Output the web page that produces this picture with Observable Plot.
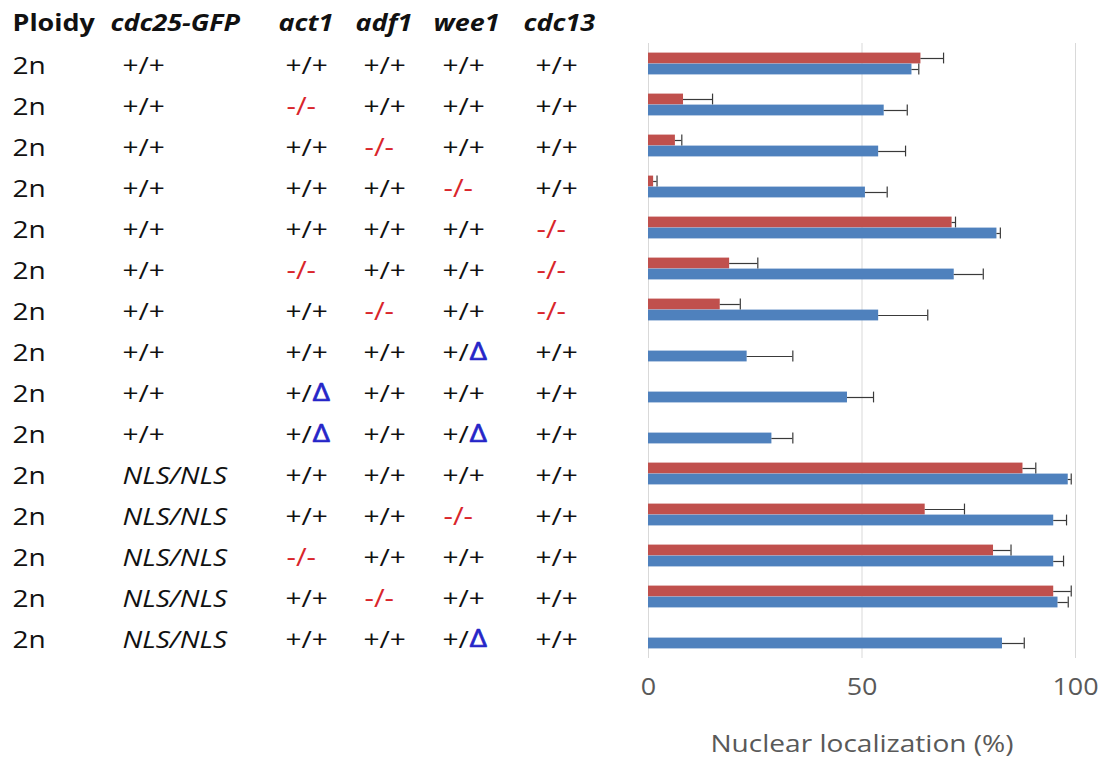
<!DOCTYPE html>
<html>
<head>
<meta charset="utf-8">
<script src="https://cdn.jsdelivr.net/npm/d3@7"></script>
<script src="https://cdn.jsdelivr.net/npm/@observablehq/plot@0.6"></script>
<style>
  html, body { margin: 0; padding: 0; background: #fff; }
  #chart { width: 1104px; height: 760px; }
</style>
</head>
<body>
<div id="chart"></div>
<script>
// ---------- data ----------
const headers = ["Ploidy", "cdc25-GFP", "act1", "adf1", "wee1", "cdc13"];
const ploidy = ["2n","2n","2n","2n","2n","2n","2n","2n","2n","2n","2n","2n","2n","2n","2n"];
const cdc25 = ["+/+","+/+","+/+","+/+","+/+","+/+","+/+","+/+","+/+","+/+","NLS/NLS","NLS/NLS","NLS/NLS","NLS/NLS","NLS/NLS"];
const act1  = ["+/+","-/-","+/+","+/+","+/+","-/-","+/+","+/+","+/Δ","+/Δ","+/+","+/+","-/-","+/+","+/+"];
const adf1  = ["+/+","+/+","-/-","+/+","+/+","+/+","-/-","+/+","+/+","+/+","+/+","+/+","+/+","-/-","+/+"];
const wee1  = ["+/+","+/+","+/+","-/-","+/+","+/+","+/+","+/Δ","+/+","+/Δ","+/+","-/-","+/+","+/+","+/Δ"];
const cdc13 = ["+/+","+/+","+/+","+/+","-/-","-/-","-/-","+/+","+/+","+/+","+/+","+/+","+/+","+/+","+/+"];

const redValues = [63.8, 8.2, 6.3, 1.2, 71.1, 19.0, 16.8, null, null, null, 87.7, 64.8, 80.8, 94.9, null];
const redErrors = [5.3, 6.8, 1.5, 0.8, 0.8, 6.6, 4.7, null, null, null, 3.0, 9.2, 4.1, 4.1, null];
const blueValues = [61.7, 55.2, 53.9, 50.8, 81.6, 71.6, 53.9, 23.1, 46.6, 28.9, 98.3, 94.9, 94.9, 95.9, 82.9];
const blueErrors = [1.6, 5.4, 6.3, 5.1, 0.8, 6.8, 11.5, 10.7, 6.1, 4.9, 0.7, 3.0, 2.3, 2.4, 5.1];

const xTicks = [0, 50, 100];
const xLabel = "Nuclear localization (%)";

// ---------- derived tables ----------
const rowIds = ploidy.map((_, i) => "r" + i);
const HEAD = "hdr";
const columnsData = [ploidy, cdc25, act1, adf1, wee1, cdc13];

const red = rowIds.map((r, i) => ({row: r, v: redValues[i], e: redErrors[i]})).filter(d => d.v != null);
const blue = rowIds.map((r, i) => ({row: r, v: blueValues[i], e: blueErrors[i]}));
const grid = xTicks.flatMap(x => rowIds.map(r => ({x, row: r})));

// ---------- layout / style ----------
const ML = 648;
const SX = 1.17;
const headX = [12, 110, 278, 355, 433, 523];
const cellX = [12, 122, 285, 363, 442, 535];
const RED = "#C0504D", BLUE = "#4F81BD";
const TXT = "#111111", MINUS = "#d9262b", DELTA = "#2525c8", AXIS = "#595959";
const ERR = "#3a3a3a";

const cells = columnsData.flatMap((col, j) => col.map((t, i) => ({row: rowIds[i], col: j, t})));

function colorOf(t) { return t === "-/-" ? MINUS : TXT; }

const tableMarks = [];
// headers
headers.forEach((h, j) => {
  tableMarks.push(Plot.text([h], {
    y: () => HEAD, text: d => d, frameAnchor: "left", textAnchor: "start",
    dx: headX[j] - ML, dy: 1, fontSize: 23, fontWeight: "bold",
    fontStyle: j === 0 ? "normal" : "italic", fill: TXT
  }));
});
// cells
for (let j = 0; j < columnsData.length; j++) {
  const cs = cells.filter(c => c.col === j);
  const groups = [
    {f: c => c.t === "NLS/NLS", italic: true},
    {f: c => c.t !== "NLS/NLS" && c.t !== "-/-", italic: false},
    {f: c => c.t === "-/-", italic: false, minus: true}
  ];
  groups.forEach(g => {
    const data = cs.filter(g.f);
    if (!data.length) return;
    tableMarks.push(Plot.text(data, {
      y: "row", text: d => d.t.replace("Δ", ""), frameAnchor: "left", textAnchor: "start",
      dx: cellX[j] - ML + (g.minus ? 1 : 0), dy: 2, fontSize: g.minus ? 25 : 24,
      fontStyle: g.italic ? "italic" : "normal",
      fill: d => colorOf(d.t)
    }));
  });
  const deltas = cs.filter(c => c.t.includes("Δ"));
  if (deltas.length) {
    tableMarks.push(Plot.text(deltas, {
      y: "row", text: () => "Δ", frameAnchor: "left", textAnchor: "start",
      dx: cellX[j] - ML + 27, dy: 1, fontSize: 26, fill: DELTA,
      stroke: DELTA, strokeWidth: 0.6
    }));
  }
}

const BAR_H = 11;
const halfBand = 659 / 16 / 2;

const chart = Plot.plot({
  width: 1104,
  height: 760,
  marginLeft: ML,
  marginRight: 29,
  marginTop: 0,
  marginBottom: 101,
  x: {domain: [0, 100], axis: null},
  y: {type: "band", domain: [HEAD, ...rowIds], padding: 0, axis: null},
  style: {fontFamily: "'Open Sans', sans-serif", background: "#fff", overflow: "visible"},
  marks: [
    Plot.tickX(grid, {x: "x", y: "row", stroke: "#d9d9d9", strokeWidth: 1}),
    Plot.barX(red, {x: "v", y: "row", fill: RED, insetTop: halfBand - BAR_H, insetBottom: halfBand}),
    Plot.barX(blue, {x: "v", y: "row", fill: BLUE, insetTop: halfBand, insetBottom: halfBand - BAR_H}),
    Plot.ruleY(red, {x1: "v", x2: d => d.v + d.e, y: "row", dy: -BAR_H / 2, stroke: ERR, strokeWidth: 1.2}),
    Plot.tickX(red, {x: d => d.v + d.e, y: "row", insetTop: halfBand - BAR_H, insetBottom: halfBand, stroke: ERR, strokeWidth: 1.2}),
    Plot.ruleY(blue, {x1: "v", x2: d => d.v + d.e, y: "row", dy: BAR_H / 2, stroke: ERR, strokeWidth: 1.2}),
    Plot.tickX(blue, {x: d => d.v + d.e, y: "row", insetTop: halfBand, insetBottom: halfBand - BAR_H, stroke: ERR, strokeWidth: 1.2}),
    Plot.text(xTicks, {x: d => d, text: d => String(d), frameAnchor: "bottom", dy: 35, fontSize: 23, fill: AXIS}),
    Plot.text([xLabel], {text: d => d, frameAnchor: "bottom", dy: 92, fontSize: 24, fill: AXIS}),
    ...tableMarks
  ]
});

// widen glyphs horizontally to match the stretched lettering of the original figure
chart.querySelectorAll("text").forEach(t => {
  const tr = t.getAttribute("transform") || "";
  t.setAttribute("transform", tr + ` scale(${SX},1)`);
});

document.getElementById("chart").appendChild(chart);
</script>
</body>
</html>
